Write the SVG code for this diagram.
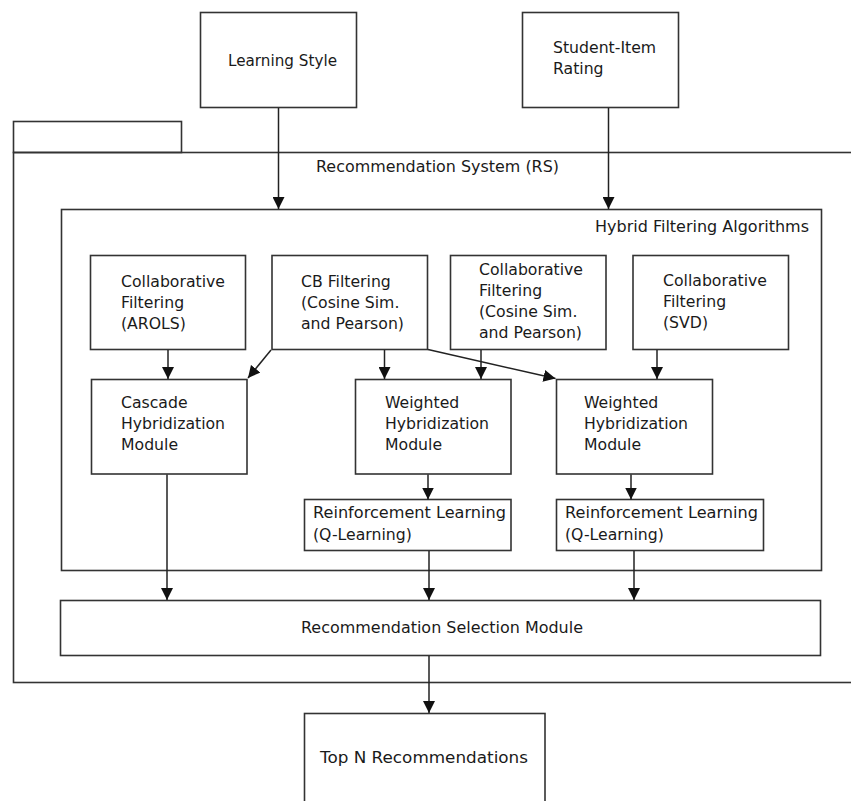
<svg xmlns="http://www.w3.org/2000/svg" width="851" height="801" viewBox="0 0 851 801">
<defs>
<style>
.box{fill:#fff;stroke:#333;stroke-width:1.6}
.frame{fill:none;stroke:#333;stroke-width:1.6}
.t{font-family:"DejaVu Sans","Liberation Sans",sans-serif;font-size:15.7px;fill:#1a1a1a}
.c{text-anchor:middle}
.e{text-anchor:end}
.ln{fill:none;stroke:#222;stroke-width:1.5;marker-end:url(#ah)}
</style>
<marker id="ah" markerUnits="userSpaceOnUse" markerWidth="14" markerHeight="12" refX="12" refY="6" orient="auto">
<path d="M0,0 L12,6 L0,12 z" fill="#111"/>
</marker>
</defs>
<rect width="851" height="801" fill="#fff"/>

<g id="rs-package">
<rect class="frame" x="13.5" y="121.5" width="168" height="31"/>
<rect class="frame" x="13.5" y="152.5" width="850" height="530"/>
<text class="t" x="316" y="171.5" textLength="243" lengthAdjust="spacingAndGlyphs">Recommendation System (RS)</text>
</g>

<g id="hybrid-group">
<rect class="frame" x="61.5" y="209.5" width="760" height="361"/>
<text class="t" x="595" y="232" textLength="214" lengthAdjust="spacingAndGlyphs">Hybrid Filtering Algorithms</text>
</g>

<g id="learning-style">
<rect class="box" x="200.5" y="12.5" width="156" height="95"/>
<text class="t" x="228" y="65.5" textLength="109" lengthAdjust="spacingAndGlyphs">Learning Style</text>
</g>

<g id="student-item-rating">
<rect class="box" x="522.5" y="12.5" width="156" height="95"/>
<text class="t" x="553" y="53">Student-Item</text>
<text class="t" x="553" y="74">Rating</text>
</g>

<g id="cf-arols">
<rect class="box" x="90.5" y="255.5" width="155" height="94"/>
<text class="t" x="121" y="286.5">Collaborative</text>
<text class="t" x="121" y="307.5">Filtering</text>
<text class="t" x="121" y="328.5">(AROLS)</text>
</g>

<g id="cb-filtering">
<rect class="box" x="272" y="255.5" width="155.5" height="94"/>
<text class="t" x="301" y="286.5">CB Filtering</text>
<text class="t" x="301" y="307.5">(Cosine Sim.</text>
<text class="t" x="301" y="328.5">and Pearson)</text>
</g>

<g id="cf-cosine">
<rect class="box" x="450.5" y="255.5" width="155.5" height="94"/>
<text class="t" x="479" y="275">Collaborative</text>
<text class="t" x="479" y="296">Filtering</text>
<text class="t" x="479" y="317">(Cosine Sim.</text>
<text class="t" x="479" y="338">and Pearson)</text>
</g>

<g id="cf-svd">
<rect class="box" x="633" y="255.5" width="155.5" height="94"/>
<text class="t" x="663" y="285.5">Collaborative</text>
<text class="t" x="663" y="306.5">Filtering</text>
<text class="t" x="663" y="327.5">(SVD)</text>
</g>

<g id="cascade">
<rect class="box" x="91.5" y="379.5" width="155.5" height="94.5"/>
<text class="t" x="121" y="408">Cascade</text>
<text class="t" x="121" y="429">Hybridization</text>
<text class="t" x="121" y="450">Module</text>
</g>

<g id="weighted-1">
<rect class="box" x="355.5" y="379.5" width="155.5" height="94.5"/>
<text class="t" x="385" y="408">Weighted</text>
<text class="t" x="385" y="429">Hybridization</text>
<text class="t" x="385" y="450">Module</text>
</g>

<g id="weighted-2">
<rect class="box" x="556.5" y="379.5" width="156" height="94.5"/>
<text class="t" x="584" y="408">Weighted</text>
<text class="t" x="584" y="429">Hybridization</text>
<text class="t" x="584" y="450">Module</text>
</g>

<g id="rl-1">
<rect class="box" x="304.5" y="499.5" width="206.5" height="51"/>
<text class="t" x="313" y="518" textLength="193" lengthAdjust="spacingAndGlyphs">Reinforcement Learning</text>
<text class="t" x="313" y="540">(Q-Learning)</text>
</g>

<g id="rl-2">
<rect class="box" x="556.5" y="499.5" width="207" height="51"/>
<text class="t" x="565" y="518" textLength="193" lengthAdjust="spacingAndGlyphs">Reinforcement Learning</text>
<text class="t" x="565" y="540">(Q-Learning)</text>
</g>

<g id="selection">
<rect class="box" x="60.5" y="600.5" width="760" height="55"/>
<text class="t" x="301" y="633" textLength="282" lengthAdjust="spacingAndGlyphs">Recommendation Selection Module</text>
</g>

<g id="top-n">
<rect class="box" x="304.5" y="713.5" width="240.5" height="100"/>
<text class="t" x="320" y="763" textLength="208" lengthAdjust="spacingAndGlyphs">Top N Recommendations</text>
</g>

<g id="connectors">
<line class="ln" x1="278.5" y1="108" x2="278.5" y2="209"/>
<line class="ln" x1="608.5" y1="108" x2="608.5" y2="209"/>
<line class="ln" x1="168" y1="350" x2="168" y2="379"/>
<line class="ln" x1="271" y1="350" x2="248" y2="378"/>
<line class="ln" x1="384.5" y1="350" x2="384.5" y2="379"/>
<line class="ln" x1="428" y1="349.5" x2="555.5" y2="378.5"/>
<line class="ln" x1="481" y1="350" x2="481" y2="379"/>
<line class="ln" x1="657" y1="350" x2="657" y2="379"/>
<line class="ln" x1="428" y1="474.5" x2="428" y2="499.5"/>
<line class="ln" x1="631" y1="474.5" x2="631" y2="499.5"/>
<line class="ln" x1="167" y1="474.5" x2="167" y2="600"/>
<line class="ln" x1="429" y1="551" x2="429" y2="600"/>
<line class="ln" x1="634" y1="551" x2="634" y2="600"/>
<line class="ln" x1="429" y1="656" x2="429" y2="713"/>
</g>
</svg>
